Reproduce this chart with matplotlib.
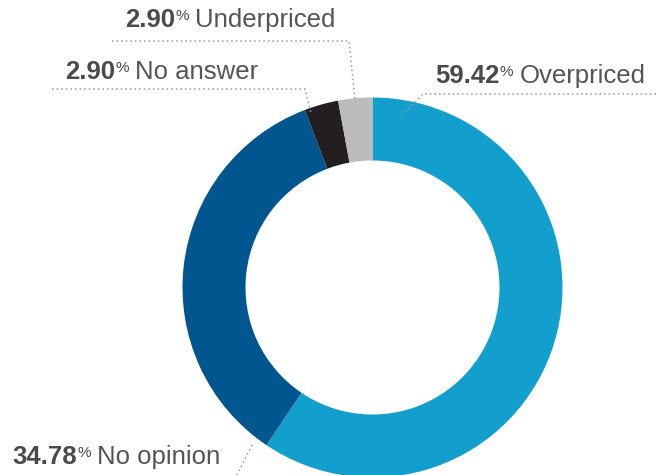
import matplotlib
matplotlib.use("Agg")
import matplotlib.pyplot as plt

W, H = 656, 475

labels = ["Overpriced", "No opinion", "No answer", "Underpriced"]
values = [59.42, 34.78, 2.90, 2.90]
colors = ["#129fcd", "#02568f", "#231f20", "#bcbcbc"]

# label placement (pixels from top-left): text start x, baseline y
label_pos = {
    "Overpriced": (435, 83),
    "No opinion": (12, 464),
    "No answer": (65, 79),
    "Underpriced": (125, 27),
}
# dotted leader lines (pixels from top-left)
leaders = {
    "Overpriced": [(656, 94), (423, 94), (400, 118)],
    "No opinion": [(252, 445), (237, 475)],
    "No answer": [(52, 89), (305, 89), (311, 113)],
    "Underpriced": [(112, 41), (349, 41), (355, 100)],
}

plt.rcParams['font.family'] = ['Liberation Sans', 'DejaVu Sans']

fig = plt.figure(figsize=(W / 100, H / 100), dpi=100)
ax = fig.add_axes([0, 0, 1, 1])

cx, cy, r = 372.5, H - 287.5, 190
ax.pie(values, colors=colors, startangle=90, counterclock=False,
       center=(cx, cy), radius=r, frame=True,
       wedgeprops=dict(width=63, linewidth=0))
ax.set_xlim(0, W)
ax.set_ylim(0, H)
ax.set_aspect('equal')
ax.axis('off')

for name, pts in leaders.items():
    xs = [p[0] for p in pts]
    ys = [H - p[1] for p in pts]
    ax.plot(xs, ys, color="#9a9a9a", linestyle=(0, (1, 2)), linewidth=1.1)

fig.canvas.draw()
renderer = fig.canvas.get_renderer()

for name, val in zip(labels, values):
    x, y = label_pos[name]
    y = H - y
    t1 = ax.text(x, y, f"{val:.2f}", fontsize=18.5, fontweight='bold',
                 color="#4a4a4a", va='baseline', ha='left')
    bb = t1.get_window_extent(renderer)
    t2 = ax.text(bb.x1 + 0.5, y + 7, "%", fontsize=11, color="#4a4a4a",
                 va='baseline', ha='left')
    bb2 = t2.get_window_extent(renderer)
    ax.text(bb2.x1 + 6, y, name, fontsize=18.5, color="#555555",
            va='baseline', ha='left')

fig.savefig("out.png", dpi=100)
